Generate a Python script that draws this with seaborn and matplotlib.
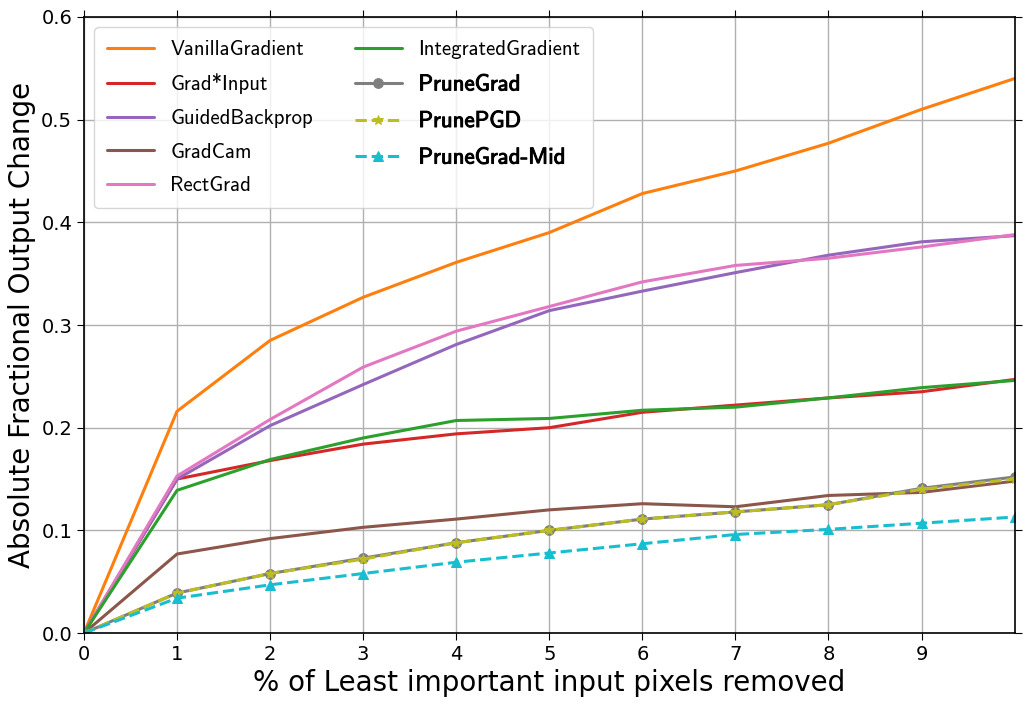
import numpy as np
import pandas as pd
import seaborn as sns
import matplotlib
matplotlib.use("Agg")
import matplotlib.pyplot as plt
import matplotlib.patheffects as pe

removed = [0, 1, 2, 3, 4, 5, 6, 7, 8, 9, 10]

vanilla = [0, 0.216, 0.285, 0.327, 0.361, 0.390, 0.428, 0.450, 0.477, 0.510, 0.540]
grad_input = [0, 0.150, 0.168, 0.184, 0.194, 0.200, 0.215, 0.222, 0.229, 0.235, 0.247]
guided = [0, 0.150, 0.202, 0.242, 0.281, 0.314, 0.333, 0.351, 0.368, 0.381, 0.387]
gradcam = [0, 0.077, 0.092, 0.103, 0.111, 0.120, 0.126, 0.123, 0.134, 0.137, 0.148]
rectgrad = [0, 0.153, 0.208, 0.259, 0.294, 0.318, 0.342, 0.358, 0.365, 0.376, 0.388]
integrated = [0, 0.139, 0.169, 0.190, 0.207, 0.209, 0.217, 0.220, 0.229, 0.239, 0.246]
prunegrad = [0, 0.039, 0.058, 0.073, 0.088, 0.100, 0.111, 0.118, 0.125, 0.141, 0.152]
prunepgd = [0, 0.039, 0.058, 0.072, 0.088, 0.100, 0.111, 0.118, 0.125, 0.140, 0.150]
prunegrad_mid = [0, 0.034, 0.047, 0.058, 0.069, 0.078, 0.087, 0.096, 0.101, 0.107, 0.113]

methods = [
    ("VanillaGradient", vanilla, "tab:orange", "-", None),
    ("Grad*Input", grad_input, "tab:red", "-", None),
    ("GuidedBackprop", guided, "tab:purple", "-", None),
    ("GradCam", gradcam, "tab:brown", "-", None),
    ("RectGrad", rectgrad, "tab:pink", "-", None),
    ("IntegratedGradient", integrated, "tab:green", "-", None),
    ("PruneGrad", prunegrad, "tab:gray", "-", "o"),
    ("PrunePGD", prunepgd, "tab:olive", "--", "*"),
    ("PruneGrad-Mid", prunegrad_mid, "tab:cyan", "--", "^"),
]
bold_names = ["PruneGrad", "PrunePGD", "PruneGrad-Mid"]

sns.set_style("ticks")
plt.rcParams["font.family"] = ["DejaVu Sans"]
for key in ["text.color", "axes.labelcolor", "xtick.color", "ytick.color"]:
    plt.rcParams[key] = "black"

fig = plt.figure(figsize=(10.29, 7.05), dpi=100)
ax = fig.add_axes([0.0816, 0.102, 0.9044, 0.874])

for name, vals, color, ls, mk in methods:
    df = pd.DataFrame({"x": removed, "y": vals})
    sns.lineplot(data=df, x="x", y="y", ax=ax, color=color, linestyle=ls,
                 marker=mk, markersize=7, markeredgecolor=color,
                 linewidth=2.2, label=name)

ax.set_xlim(0, 10)
ax.set_ylim(0, 0.6)
ax.set_xticks(range(10))
ax.set_yticks(np.arange(0, 0.61, 0.1))
ax.tick_params(labelsize=14, direction="out", length=5, color="black",
               labelcolor="black", top=True, right=True)
ax.grid(True, color="#b0b0b0", linewidth=1)
for s in ax.spines.values():
    s.set_color("black")
    s.set_linewidth(1.2)
ax.set_xlabel("% of Least important input pixels removed", fontsize=20)
ax.set_ylabel("Absolute Fractional Output Change", fontsize=20)

leg = ax.legend(loc="upper left", ncol=2, prop={"family": "cmss10", "size": 15},
                handlelength=2.25, columnspacing=2.0, labelspacing=0.7,
                borderpad=0.6, handletextpad=0.8, frameon=True)
for t in leg.get_texts():
    t.set_color("black")
    if t.get_text() in bold_names:
        t.set_fontsize(16.5)
        t.set_path_effects([pe.withStroke(linewidth=0.7, foreground="black")])

fig.savefig("out.png", dpi=100)
